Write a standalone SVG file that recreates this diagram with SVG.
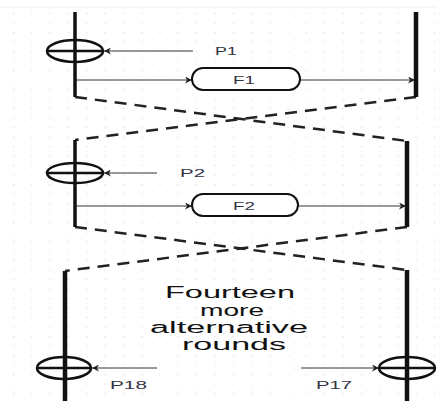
<svg xmlns="http://www.w3.org/2000/svg" width="438" height="401" viewBox="0 0 438 401">
<style>
.lane{stroke:#111;stroke-width:3.5;fill:none}
.lane-r{stroke:#111;stroke-width:4.5;fill:none}
.dash{stroke:#222;stroke-width:2.5;stroke-dasharray:12 8;fill:none}
.arr{stroke:#333;stroke-width:1;fill:none;marker-end:url(#ah)}
.xor{stroke:#111;stroke-width:2.5;fill:none}
.fn{stroke:#111;stroke-width:2;fill:#fff}
.lbl{font-family:"Liberation Sans",Arial,sans-serif;font-size:10px;fill:#333344}
.big{font-family:"Liberation Sans",Arial,sans-serif;font-size:16px;fill:#111}
</style>
<defs>
<marker id="ah" viewBox="0 0 10 10" refX="10" refY="5" markerWidth="9" markerHeight="7" markerUnits="userSpaceOnUse" orient="auto">
<path d="M0,0 L10,5 L0,10 L3,5 Z" fill="#222"/>
</marker>
<pattern id="grid" x="13" y="13" width="18.3" height="9.5" patternUnits="userSpaceOnUse">
<rect x="0" y="0" width="1.2" height="1.2" fill="#dcdcdc"/>
</pattern>
</defs>
<rect width="438" height="401" fill="#fff"/>
<rect x="0" y="8" width="438" height="393" fill="url(#grid)"/>
<line x1="0" y1="7" x2="438" y2="7" stroke="#eeeeee" stroke-width="1"/>

<g id="connectors">
<line class="dash" x1="75" y1="97" x2="407" y2="141"/>
<line class="dash" x1="416" y1="97" x2="75" y2="140"/>
<line class="dash" x1="75" y1="227" x2="407" y2="270"/>
<line class="dash" x1="407" y1="227" x2="65" y2="271"/>
<line class="arr" x1="193" y1="51" x2="104" y2="51"/>
<line class="arr" x1="75" y1="80" x2="192" y2="80"/>
<line class="arr" x1="300" y1="80" x2="415" y2="80"/>
<line class="arr" x1="157" y1="173" x2="104" y2="173"/>
<line class="arr" x1="75" y1="206" x2="192" y2="206"/>
<line class="arr" x1="298" y1="206" x2="406" y2="206"/>
<line class="arr" x1="157" y1="368" x2="92" y2="368"/>
<line class="arr" x1="301" y1="368" x2="379" y2="368"/>
</g>

<g id="lane1-left"><line class="lane" x1="75" y1="12" x2="75" y2="97"/></g>
<g id="lane1-right"><line class="lane-r" x1="416" y1="12" x2="416" y2="97"/></g>
<g id="lane2-left"><line class="lane" x1="75" y1="140" x2="75" y2="227"/></g>
<g id="lane2-right"><line class="lane-r" x1="407" y1="141" x2="407" y2="227"/></g>
<g id="lane3-left"><line class="lane-r" x1="65" y1="271" x2="65" y2="401"/></g>
<g id="lane3-right"><line class="lane-r" x1="407" y1="270" x2="407" y2="401"/></g>

<g id="xor1"><ellipse class="xor" cx="75" cy="51" rx="28" ry="11"/><line class="xor" x1="47" y1="51" x2="103" y2="51" stroke-width="2"/></g>
<g id="xor2"><ellipse class="xor" cx="75" cy="173" rx="28" ry="10"/><line class="xor" x1="47" y1="173" x2="103" y2="173" stroke-width="2"/></g>
<g id="xor18"><ellipse class="xor" cx="64" cy="368" rx="27" ry="11"/><line class="xor" x1="37" y1="368" x2="91" y2="368" stroke-width="2"/></g>
<g id="xor17"><ellipse class="xor" cx="407" cy="368" rx="28" ry="11"/><line class="xor" x1="379" y1="368" x2="435" y2="368" stroke-width="2"/></g>

<g id="f1"><rect class="fn" x="192" y="68" width="108" height="22" rx="11"/><text class="lbl" x="244" y="84" text-anchor="middle" textLength="22" lengthAdjust="spacingAndGlyphs">F1</text></g>
<g id="f2"><rect class="fn" x="192" y="194" width="106" height="22" rx="11"/><text class="lbl" x="244" y="210" text-anchor="middle" textLength="22" lengthAdjust="spacingAndGlyphs">F2</text></g>

<g id="p1"><text class="lbl" x="215" y="55" textLength="22" lengthAdjust="spacingAndGlyphs">P1</text></g>
<g id="p2"><text class="lbl" x="180" y="177" textLength="25" lengthAdjust="spacingAndGlyphs">P2</text></g>
<g id="p18"><text class="lbl" x="110" y="389" textLength="37" lengthAdjust="spacingAndGlyphs">P18</text></g>
<g id="p17"><text class="lbl" x="316" y="389" textLength="36" lengthAdjust="spacingAndGlyphs">P17</text></g>

<g id="note">
<text class="big" x="165" y="298" textLength="130" lengthAdjust="spacingAndGlyphs">Fourteen</text>
<text class="big" x="200" y="316" textLength="64" lengthAdjust="spacingAndGlyphs">more</text>
<text class="big" x="150" y="333" textLength="158" lengthAdjust="spacingAndGlyphs">alternative</text>
<text class="big" x="182" y="350" textLength="104" lengthAdjust="spacingAndGlyphs">rounds</text>
</g>
</svg>
